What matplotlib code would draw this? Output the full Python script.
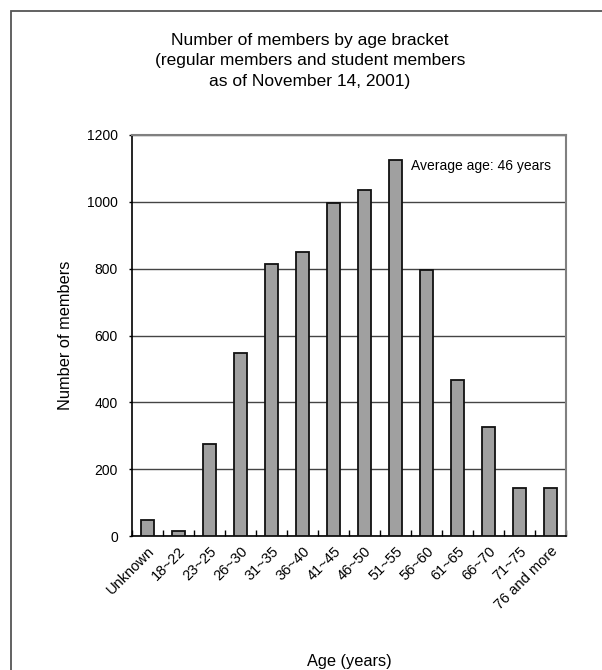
import matplotlib
matplotlib.use("Agg")
import matplotlib.pyplot as plt
from matplotlib.patches import Rectangle
import numpy as np

categories = ["Unknown", "18~22", "23~25", "26~30", "31~35", "36~40", "41~45",
              "46~50", "51~55", "56~60", "61~65", "66~70", "71~75", "76 and more"]
members = [48, 15, 274, 549, 815, 850, 997, 1035, 1125, 795, 468, 327, 145, 143]
yticks = [0, 200, 400, 600, 800, 1000, 1200]

plt.rcParams['font.family'] = ['Liberation Sans', 'DejaVu Sans']

fig = plt.figure(figsize=(6.02, 6.70), dpi=100)
fig.patch.set_facecolor('white')

# outer frame
fig.patches.append(Rectangle((11/602, -0.2), 1.2, 1.2 - 11/670,
                             transform=fig.transFigure, fill=False,
                             edgecolor='#555555', linewidth=1.3))

ax = fig.add_axes([131.7/602, 1-536/670, (566-131.7)/602, (536-135)/670])
x = np.arange(len(categories))
ax.bar(x, members, width=0.41, color='#a0a0a0', edgecolor='#111111',
       linewidth=1.3, zorder=3)
ax.set_xlim(-0.5, len(categories)-0.5)
ax.set_ylim(0, 1200)
ax.set_yticks(yticks)
ax.set_yticklabels([str(v) for v in yticks], fontsize=10)
ax.yaxis.grid(True, color='#444444', linewidth=1.0, zorder=0)
ax.set_axisbelow(True)

# x ticks at category boundaries, labels at centers
ax.set_xticks(np.arange(len(categories)+1)-0.5)
ax.set_xticklabels([])
ax.set_xticks(x, minor=True)
ax.set_xticklabels(categories, minor=True, rotation=45, ha='right',
                   rotation_mode='anchor', fontsize=10.5)
ax.tick_params(axis='x', which='major', direction='in', length=4, width=1, color='black')
ax.tick_params(axis='x', which='minor', length=0, pad=6)
ax.tick_params(axis='y', direction='out', length=2, width=1, pad=8)

for s in ['left', 'bottom']:
    ax.spines[s].set_color('black')
    ax.spines[s].set_linewidth(1.2)
for s in ['top', 'right']:
    ax.spines[s].set_color('#808080')
    ax.spines[s].set_linewidth(1.5)

ax.text(8.5, 1107, "Average age: 46 years", fontsize=10, ha='left', va='center')

ax.set_ylabel("Number of members", fontsize=11.8)
ax.yaxis.set_label_coords(-(131.7-73)/434.3, 0.5)
ax.set_xlabel("Age (years)", fontsize=11.8)
ax.xaxis.set_label_coords(0.5, -(654-536)/401)

fig.text(310/602, 1-61/670,
         "Number of members by age bracket\n(regular members and student members\nas of November 14, 2001)",
         ha='center', va='center', fontsize=12.5, linespacing=1.45)

fig.savefig("out.png", dpi=100)
